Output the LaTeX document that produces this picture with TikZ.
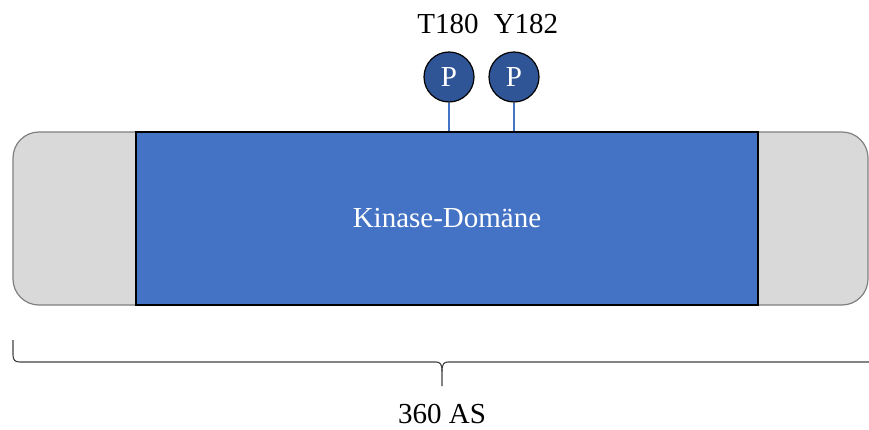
\documentclass[tikz,border=0pt]{standalone}
\usepackage{fontspec}
\setmainfont{Liberation Serif}
\definecolor{domgray}{HTML}{D9D9D9}
\definecolor{domedge}{HTML}{808080}
\definecolor{kinblue}{HTML}{4472C4}
\definecolor{phosblue}{HTML}{2F5597}
\definecolor{bracegray}{HTML}{404040}
\tikzset{
  lbl/.style={font=\fontsize{29}{34}\selectfont, inner sep=0pt},
  protein/.style={draw=domedge, line width=1.2pt, fill=domgray, rounded corners=26pt,
    minimum width=855pt, minimum height=173pt, inner sep=0pt},
  kinase/.style={draw=black, line width=1.2pt, fill=kinblue, minimum width=622pt,
    minimum height=173pt, inner sep=0pt, text=white, font=\fontsize{29}{34}\selectfont},
  phos/.style={circle, draw=black, line width=1.2pt, fill=phosblue, minimum size=50pt,
    inner sep=0pt, text=white, font=\fontsize{29}{34}\selectfont},
  stem/.style={draw=kinblue, line width=1.4pt},
  bracket/.style={draw=bracegray, line width=1.1pt}
}
\begin{document}
\begin{tikzpicture}[x=1pt, y=-1pt]
  \useasboundingbox (0,0) rectangle (869,430);
  % full-length protein with the kinase domain on top
  \node[protein] (prot) at (440.5,218.5) {};
  \node[kinase] (kin) at (447,218.5) {Kinase-Domäne};
  % phosphorylation sites
  \node[phos] (p1) at (449,77) {P};
  \node[phos] (p2) at (514,77) {P};
  \draw[stem] (p1.south) -- (p1.south |- kin.north);
  \draw[stem] (p2.south) -- (p2.south |- kin.north);
  \node[lbl] (t180) at (448,24) {T180};
  \node[lbl] (y182) at (526,24) {Y182};
  % length brace
  \coordinate (bl) at (13,340);
  \coordinate (br) at (869,362);
  \coordinate (tip) at (442,386);
  \draw[bracket] (bl) -- (13,355) .. controls (13,360) and (15,362) .. (20,362)
    -- (436,362) .. controls (440,362) and (442,364) .. (442,371) -- (tip);
  \draw[bracket] (442,371) .. controls (442,364) and (444,362) .. (448,362) -- (br);
  \node[lbl] (len) at (442,414) {360 AS};
\end{tikzpicture}
\end{document}
